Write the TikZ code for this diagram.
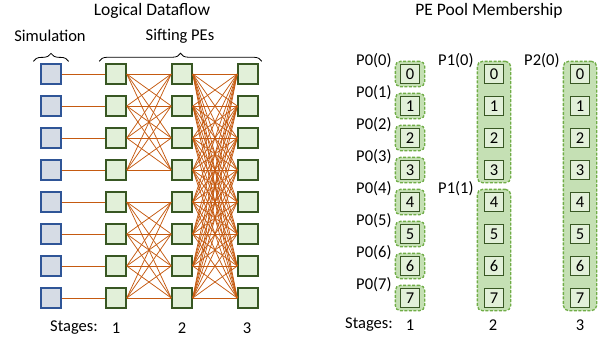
\documentclass[tikz,border=0pt]{standalone}
\usepackage{fontspec}
\setmainfont{Carlito}
\usetikzlibrary{positioning, fit, backgrounds, decorations.pathreplacing}
\definecolor{simedge}{HTML}{2F5597}
\definecolor{simfill}{HTML}{D6DCE5}
\definecolor{peedge}{HTML}{385723}
\definecolor{pefill}{HTML}{E2F0D9}
\definecolor{flowline}{HTML}{C55A11}
\definecolor{pooledge}{HTML}{70AD47}
\definecolor{poolfill}{HTML}{C5E0B4}

\begin{document}
\begin{tikzpicture}[
    x=1pt, y=-1pt,
    font=\fontsize{16.5}{19}\selectfont,
    simbox/.style={draw=simedge, fill=simfill, line width=1.3pt, minimum size=20pt, inner sep=0pt},
    pebox/.style={draw=peedge, fill=pefill, line width=1.5pt, minimum size=20pt, inner sep=0pt},
    flow/.style={draw=flowline, line width=0.75pt},
    member/.style={draw=peedge, fill=pefill, line width=1.3pt, minimum size=19pt, inner sep=0pt},
    pool/.style={draw=pooledge, fill=poolfill, dashed, dash pattern=on 3pt off 1.5pt, line width=1.3pt, rounded corners=5pt, inner ysep=2.5pt},
    plabel/.style={inner sep=1pt},
    brace/.style={decorate, decoration={brace, amplitude=8pt}, line width=0.8pt}
]
   \useasboundingbox (0,0) rectangle (606,343);

   % Titles
   \node[font=\fontsize{17.5}{20}\selectfont] (title l) at (152,11) {Logical Dataflow};
   \node[font=\fontsize{17.5}{20}\selectfont] (title r) at (489,11) {PE Pool Membership};

   % Dataflow boxes
   \foreach \i in {0,...,7} {
      \node[simbox] (a\i) at (51,74+32*\i) {};
      \node[pebox]  (b\i) at (116,74+32*\i) {};
      \node[pebox]  (c\i) at (182,74+32*\i) {};
      \node[pebox]  (d\i) at (248,74+32*\i) {};
   }

   % Transitions between stages
   \foreach \i in {0,...,7} {
      \draw[flow] (a\i.east) -- (b\i.west);
      \pgfmathtruncatemacro\grp{4*int(\i/4)}
      \foreach \k in {0,...,3} {
         \pgfmathtruncatemacro\j{\grp+\k}
         \draw[flow] (b\i.east) -- (c\j.west);
      }
      \foreach \j in {0,...,7}
         \draw[flow] (c\i.east) -- (d\j.west);
   }

   % Braces
   \node (sim lbl) at (50,36) {Simulation};
   \node (sift lbl) at (180,36) {Sifting PEs};
   \draw[brace] ([xshift=-7pt,yshift=2pt]a0.north west) -- ([xshift=7pt,yshift=2pt]a0.north east);
   \draw[brace] ([xshift=-6pt,yshift=2pt]b0.north west) -- ([xshift=3pt,yshift=2pt]d0.north east);

   % Stage labels
   \node (stg l) at (74,328) {Stages:};
   \node at (116,328) {1};
   \node at (182,328) {2};
   \node at (247,328) {3};

   % Pool members
   \foreach \i in {0,...,7} {
      \node[member] (m\i) at (410,74+32*\i) {\i};
      \node[member] (n\i) at (494,74+32*\i) {\i};
      \node[member] (o\i) at (580,74+32*\i) {\i};
   }

   % Pools
   \begin{scope}[on background layer]
      \foreach \i in {0,...,7}
         \node[pool, inner xsep=4.5pt, fit=(m\i)] (p0-\i) {};
      \node[pool, inner xsep=6.5pt, fit=(n0) (n3)] (p1-0) {};
      \node[pool, inner xsep=6.5pt, fit=(n4) (n7)] (p1-1) {};
      \node[pool, inner xsep=6.5pt, fit=(o0) (o7)] (p2-0) {};
   \end{scope}

   % Pool labels
   \foreach \i in {0,...,7}
      \node[plabel, left=2pt of p0-\i.north west] {P0(\i)};
   \node[plabel, left=2pt of p1-0.north west] {P1(0)};
   \node[plabel, left=2pt of p1-1.north west] {P1(1)};
   \node[plabel, left=2pt of p2-0.north west] {P2(0)};

   \node (stg r) at (369,325) {Stages:};
   \node at (410,325) {1};
   \node at (493,325) {2};
   \node at (580,325) {3};
\end{tikzpicture}
\end{document}
